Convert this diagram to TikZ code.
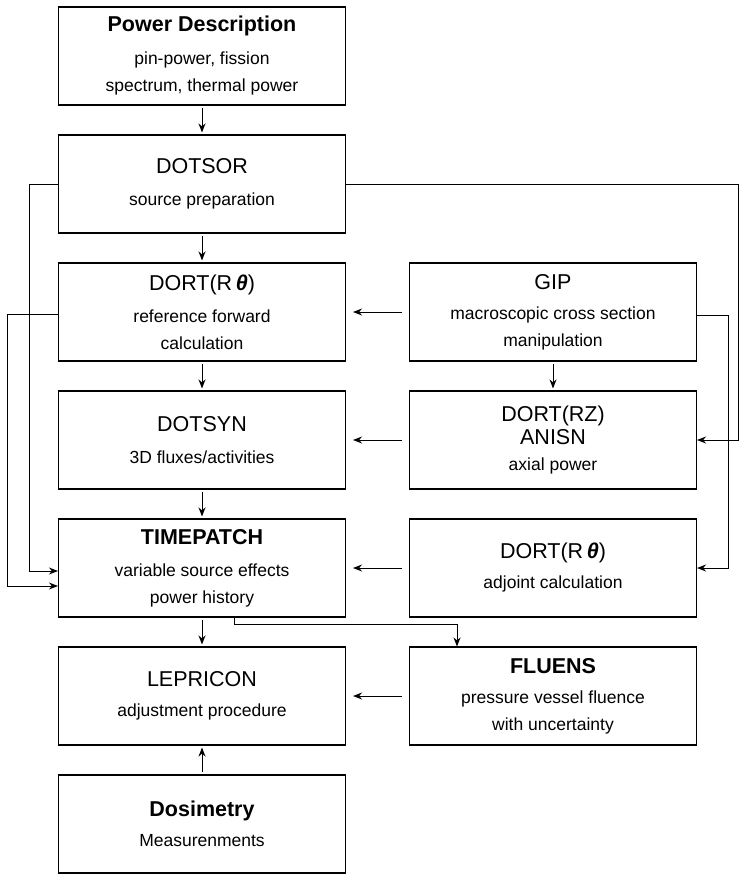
\documentclass[tikz,border=0pt]{standalone}
\usepackage{fontspec}
\setmainfont{Liberation Sans}
\usetikzlibrary{arrows.meta,calc}

\newcommand{\ttl}{\fontsize{21.5}{27}\selectfont}
\newcommand{\ttlb}{\fontsize{21.5}{27}\selectfont\bfseries}

\tikzstyle{block} = [rectangle, minimum width=287pt, minimum height=98pt, text centered, align=center, draw=black, line width=1.1pt, font=\fontsize{17.5}{27}\selectfont]
\tikzstyle{arrow} = [line width=1pt, -{Stealth[length=9pt,width=7pt]}]
\tikzstyle{vlink} = [arrow, shorten <=2pt, shorten >=2pt]
\tikzstyle{hlink} = [arrow, shorten <=7pt, shorten >=7pt]

\begin{document}
\begin{tikzpicture}[node distance=128pt]
\useasboundingbox (0,0) rectangle (739pt,-875pt);

% left column
\node (power) [block] at (202pt,-56pt) {{\ttlb Power Description}\\[6pt] pin-power, fission\\spectrum, thermal power};
\node (dotsor) [block, below of=power] {{\ttl DOTSOR}\\[5pt] source preparation};
\node (dortf) [block, below of=dotsor] {{\ttl DORT(R\,\textbf{\textit{θ}})}\\[5pt] reference forward\\calculation};
\node (dotsyn) [block, below of=dortf] {{\ttl DOTSYN}\\[5pt] 3D fluxes/activities};
\node (timepatch) [block, below of=dotsyn] {{\ttlb TIMEPATCH}\\[5pt] variable source effects\\power history};
\node (lepricon) [block, below of=timepatch] {{\ttl LEPRICON}\\[3pt] adjustment procedure};
\node (dosim) [block, below of=lepricon] {{\ttlb Dosimetry}\\[3pt] Measurenments};

% right column
\node (gip) [block, right of=dortf, node distance=351pt] {{\ttl GIP}\\[3pt] macroscopic cross section\\manipulation};
\node (dortrz) [block, below of=gip] {{\ttl DORT(RZ)}\\[-4pt]{\ttl ANISN}\\[-1pt] axial power};
\node (dorta) [block, below of=dortrz] {{\ttl DORT(R\,\textbf{\textit{θ}})}\\[3pt] adjoint calculation};
\node (fluens) [block, below of=dorta] {{\ttlb FLUENS}\\[3pt] pressure vessel fluence\\with uncertainty};

% main chain
\draw [vlink] (power) -- (dotsor);
\draw [vlink] (dotsor) -- (dortf);
\draw [vlink] (dortf) -- (dotsyn);
\draw [vlink] (dotsyn) -- (timepatch);
\draw [vlink] (timepatch) -- (lepricon);
\draw [vlink] (dosim) -- (lepricon);
\draw [vlink] (gip) -- (dortrz);

% right to left
\draw [hlink] (gip) -- (dortf);
\draw [hlink] (dortrz) -- (dotsyn);
\draw [hlink] (dorta) -- (timepatch);
\draw [hlink] (fluens) -- (lepricon);

% bypass lines
\coordinate (tpin1) at ($(timepatch.west)+(0,-3pt)$);
\coordinate (tpin2) at ($(timepatch.west)+(0,-18pt)$);
\coordinate (redge) at (738pt,0);
\coordinate (gipside) at (728pt,0);
\draw [arrow] (dotsor.west) -- ++(-28.5pt,0) |- (tpin1);
\draw [arrow] ($(dortf.west)+(0,-2pt)$) -- ++(-50.5pt,0) |- (tpin2);
\draw [arrow] (dotsor.east) -- (dotsor.east -| redge) |- (dortrz.east);
\draw [arrow] ($(gip.east)+(0,-3pt)$) -- ($(gip.east -| gipside)+(0,-3pt)$) |- (dorta.east);

\coordinate (tpout) at ($(timepatch.south)+(32pt,0)$);
\coordinate (flin) at ($(fluens.north)+(-96pt,0)$);
\draw [arrow] (tpout) -- ++(0,-7pt) -| (flin);

\end{tikzpicture}
\end{document}
